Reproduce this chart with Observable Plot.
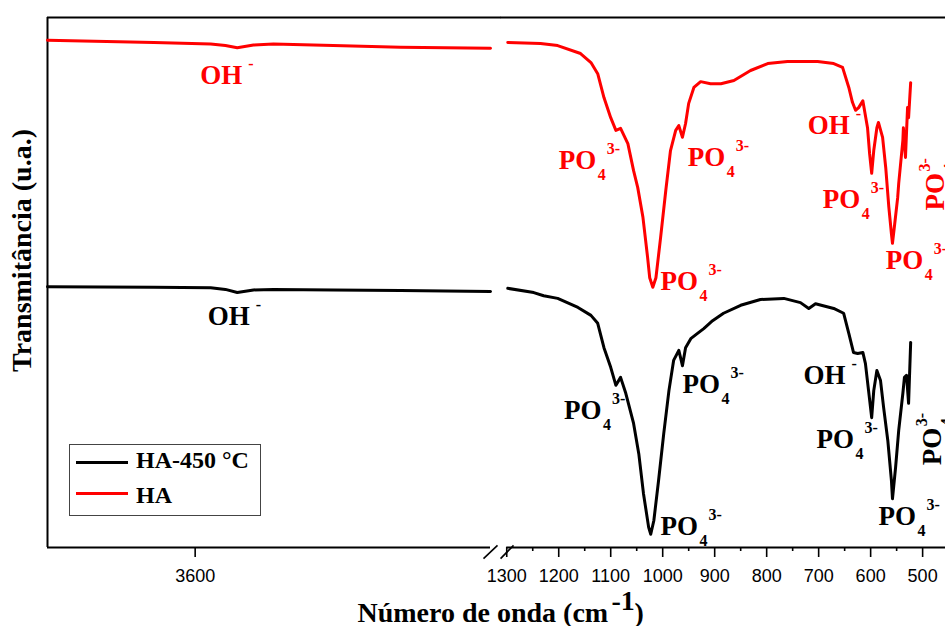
<!DOCTYPE html>
<html><head><meta charset="utf-8">
<script src="https://cdn.jsdelivr.net/npm/d3@7"></script>
<script src="https://cdn.jsdelivr.net/npm/@observablehq/plot@0.6"></script>
<style>
body{margin:0;background:#fff;}
#wrap{position:relative;width:945px;height:626px;overflow:hidden;background:#fff;}
#wrap svg{position:absolute;left:0;top:0;}
</style></head><body><div id="wrap"></div>
<script>
// ---- data ----
const seriesNames = ["HA-450 °C", "HA"];
const seriesColors = ["#000000", "#ff0000"];

// left segment (high wavenumber)
const leftW      = [3800, 3656, 3579, 3559, 3543, 3521, 3494, 3413, 3322, 3200];
const leftRedT   = [95.7, 95.3, 95.0, 94.7, 94.3, 94.8, 95.0, 94.7, 94.4, 94.2];
const leftBlackT = [49.2, 49.1, 49.0, 48.7, 48.1, 48.6, 48.7, 48.6, 48.5, 48.3];

// right segment (1300 - 520 cm-1)
const redRightW = [1298,1235,1202,1158,1138,1125,1113,1100,1090,1081,1067,1056,1048,1038,1029,1025,1019,1013,1004,994,985,975,969,962,956,950,940,927,908,888,863,831,798,760,702,671,654,642,635,629,623,615,606,602,598,594,588,585,577,571,565,560,558,554,548,546,538,537,533,529,527,523];
const redRightT = [95.3,95.1,94.7,93.2,91.5,89.4,84.9,81.1,78.7,79.1,76.2,71.1,67.9,62.3,54.7,50.9,49.1,50.9,58.5,67.4,74.9,78.7,79.6,77.4,80.0,83.8,86.8,87.9,87.5,87.5,88.1,90.0,91.3,91.7,91.7,91.3,90.6,86.8,84.0,82.5,83.0,84.3,79.2,74.3,70.6,74.9,79.2,80.2,77.4,71.7,64.2,59.2,57.4,60.8,66.0,68.7,76.8,79.2,73.6,83.0,81.1,87.7];
const blackRightW = [1298,1248,1229,1202,1163,1138,1125,1113,1100,1090,1081,1071,1056,1046,1037,1027,1023,1017,1008,998,988,979,969,962,956,946,933,921,904,883,850,812,767,735,719,706,671,652,642,633,625,615,610,604,598,594,588,581,575,567,560,558,552,546,538,535,531,527,523];
const blackRightT = [48.9,48.1,47.5,47.0,45.3,43.8,42.3,37.7,34.0,30.6,32.1,29.1,23.4,17.7,10.2,3.8,2.5,5.1,12.6,21.5,29.6,35.3,37.2,34.3,37.7,39.4,40.4,41.3,42.8,44.2,45.7,46.8,47.0,46.2,45.1,46.0,45.1,44.2,40.4,36.8,36.6,36.8,34.7,29.6,24.5,29.6,33.4,31.5,26.4,20.2,12.6,9.2,15.1,22.1,29.1,32.1,32.5,27.2,38.7];

// ticks
const leftTicks = [3600];
const rightTicks = [1300,1200,1100,1000,900,800,700,600,500];
const rightMinorTicks = [1250,1150,1050,950,850,750,650,550];

// annotations
const annSeries = ["HA","HA","HA","HA","HA","HA","HA","HA","HA-450 °C","HA-450 °C","HA-450 °C","HA-450 °C","HA-450 °C","HA-450 °C","HA-450 °C","HA-450 °C"];
const annPanel  = ["L","R","R","R","R","R","R","R","L","R","R","R","R","R","R","R"];
const annMain   = ["OH","PO","PO","PO","OH","PO","PO","PO","OH","PO","PO","PO","OH","PO","PO","PO"];
const annSub    = ["","4","4","4","","4","4","4","","4","4","4","","4","4","4"];
const annSup    = ["-","3-","3-","3-","-","3-","3-","3-","-","3-","3-","3-","-","3-","3-","3-"];
const annW      = [3593,1200,952,1004,721,692,571,458,3583,1190,962,1004,729,704,585,465];
const annT      = [87.5,71.5,71.9,48.5,78.1,64.0,52.6,63.6,41.9,24.3,29.2,2.3,30.8,18.7,4.2,15.5];
const annRotate = [0,0,0,0,0,0,0,-90,0,0,0,0,0,0,0,-90];

const xTitle = "Número de onda (cm", xTitleSup = "-1", xTitleEnd = ")";
const yTitle = "Transmitância (u.a.)";

// ---- build ----
const W = 945, H = 626, mT = 17, mB = 79;
const serif = "'Liberation Serif','Times New Roman',serif";
const sans = "'Liberation Sans',Arial,sans-serif";
const color = {domain: seriesNames, range: seriesColors};
const style = "background:transparent;overflow:visible;font-family:'Liberation Sans',Arial,sans-serif;";

const leftData = [
  ...leftW.map((w, i) => ({w, T: leftBlackT[i], series: seriesNames[0]})),
  ...leftW.map((w, i) => ({w, T: leftRedT[i], series: seriesNames[1]}))
];
const rightData = [
  ...blackRightW.map((w, i) => ({w, T: blackRightT[i], series: seriesNames[0]})),
  ...redRightW.map((w, i) => ({w, T: redRightT[i], series: seriesNames[1]}))
];
const ann = annW.map((w, i) => ({w, T: annT[i], series: annSeries[i], panel: annPanel[i],
  main: annMain[i], sub: annSub[i], sup: annSup[i], rot: annRotate[i]}));

function annMarks(rows) {
  const flat = rows.filter(d => !d.rot), rot = rows.filter(d => d.rot);
  const base = {x: "w", y: "T", fill: "series", fontFamily: serif, fontWeight: "bold", textAnchor: "start", lineAnchor: "bottom"};
  return [
    Plot.text(flat, {...base, text: "main", fontSize: 27}),
    Plot.text(flat, {...base, text: "sub", fontSize: 16, dx: 39, dy: 11}),
    Plot.text(flat, {...base, text: "sup", fontSize: 16, dx: 48, dy: -15}),
    Plot.text(rot, {...base, text: "main", fontSize: 27, rotate: -90}),
    Plot.text(rot, {...base, text: "sub", fontSize: 16, rotate: -90, dx: 11, dy: -39}),
    Plot.text(rot, {...base, text: "sup", fontSize: 16, rotate: -90, dx: -14, dy: -39})
  ];
}

const leftDomain = [3800, 3200];
const brk = leftDomain[1];
const left = Plot.plot({
  width: W, height: H, marginLeft: 47, marginRight: W - 490, marginTop: mT, marginBottom: mB,
  x: {domain: leftDomain, label: null},
  y: {domain: [0, 100], axis: null},
  color, style,
  marks: [
    Plot.ruleY([0], {x1: leftDomain[0], x2: brk, strokeWidth: 2}),
    Plot.ruleY([100], {x1: leftDomain[0], x2: brk - 14, strokeWidth: 2}),
    Plot.ruleX([leftDomain[0]], {y1: 0, y2: 100, strokeWidth: 2}),
    Plot.link([{a: brk + 9.5, b: brk - 9.5}, {a: brk - 13.6, b: brk - 31.2}],
      {x1: "a", x2: "b", y1: -2.1, y2: 0.4, strokeWidth: 1.6}),
    Plot.axisX(leftTicks, {anchor: "bottom", tickSize: 10, tickPadding: 12, tickFormat: "d",
      fontSize: 18, fontFamily: sans, strokeWidth: 1.6, label: null}),
    Plot.line(leftData, {x: "w", y: "T", z: "series", stroke: "series", strokeWidth: 3, strokeLinejoin: "round"}),
    ...annMarks(ann.filter(d => d.panel === "L")),
    Plot.text([yTitle], {frameAnchor: "left", dx: -25, dy: -32, rotate: -90, fontSize: 28, textAnchor: "middle",
      fontWeight: "bold", fontFamily: serif, lineAnchor: "middle", fill: "#000"}),
    Plot.text([xTitle], {frameAnchor: "bottom-left", dx: 310, dy: 74, textAnchor: "start", lineAnchor: "bottom",
      fontSize: 28, fontWeight: "bold", fontFamily: serif, fill: "#000"}),
    Plot.text([xTitleSup], {frameAnchor: "bottom-left", dx: 564, dy: 62, textAnchor: "start", lineAnchor: "bottom",
      fontSize: 28, fontWeight: "bold", fontFamily: serif, fill: "#000"}),
    Plot.text([xTitleEnd], {frameAnchor: "bottom-left", dx: 587, dy: 74, textAnchor: "start", lineAnchor: "bottom",
      fontSize: 28, fontWeight: "bold", fontFamily: serif, fill: "#000"})
  ]
});

const rightDomain = [1312, 456];
const right = Plot.plot({
  width: W, height: H, marginLeft: 500, marginRight: 0, marginTop: mT, marginBottom: mB,
  x: {domain: rightDomain, label: null},
  y: {domain: [0, 100], axis: null},
  color, style,
  marks: [
    Plot.ruleY([0], {x1: rightTicks[0], x2: rightDomain[1], strokeWidth: 2}),
    Plot.ruleY([100], {x1: rightDomain[0], x2: rightDomain[1], strokeWidth: 2}),
    Plot.axisX(rightMinorTicks, {anchor: "bottom", tickSize: 4, tickFormat: () => "", strokeWidth: 1.6, label: null}),
    Plot.axisX(rightTicks, {anchor: "bottom", tickSize: 10, tickPadding: 12, tickFormat: "d",
      fontSize: 18, fontFamily: sans, strokeWidth: 1.6, label: null}),
    Plot.line(rightData, {x: "w", y: "T", z: "series", stroke: "series", strokeWidth: 3, strokeLinejoin: "round"}),
    ...annMarks(ann.filter(d => d.panel === "R"))
  ]
});

const wrap = document.getElementById("wrap");
wrap.appendChild(left);
wrap.appendChild(right);

// legend
const leg = d3.select(wrap).append("div")
  .style("position", "absolute").style("left", "69px").style("top", "444px")
  .style("width", "190px").style("height", "70px")
  .style("border", "1px solid #444").style("background", "#fff");
seriesNames.forEach((s, i) => {
  leg.append("div").style("position", "absolute").style("left", "6px")
    .style("top", (15.5 + i * 31) + "px").style("width", "52px").style("height", "3px")
    .style("background", seriesColors[i]);
  leg.append("div").style("position", "absolute").style("left", "66px")
    .style("top", (2.5 + i * 35) + "px").style("line-height", "24px")
    .style("font-family", serif).style("font-weight", "bold").style("font-size", "24px")
    .style("white-space", "nowrap").style("color", "#000").text(s);
});
</script></body></html>
